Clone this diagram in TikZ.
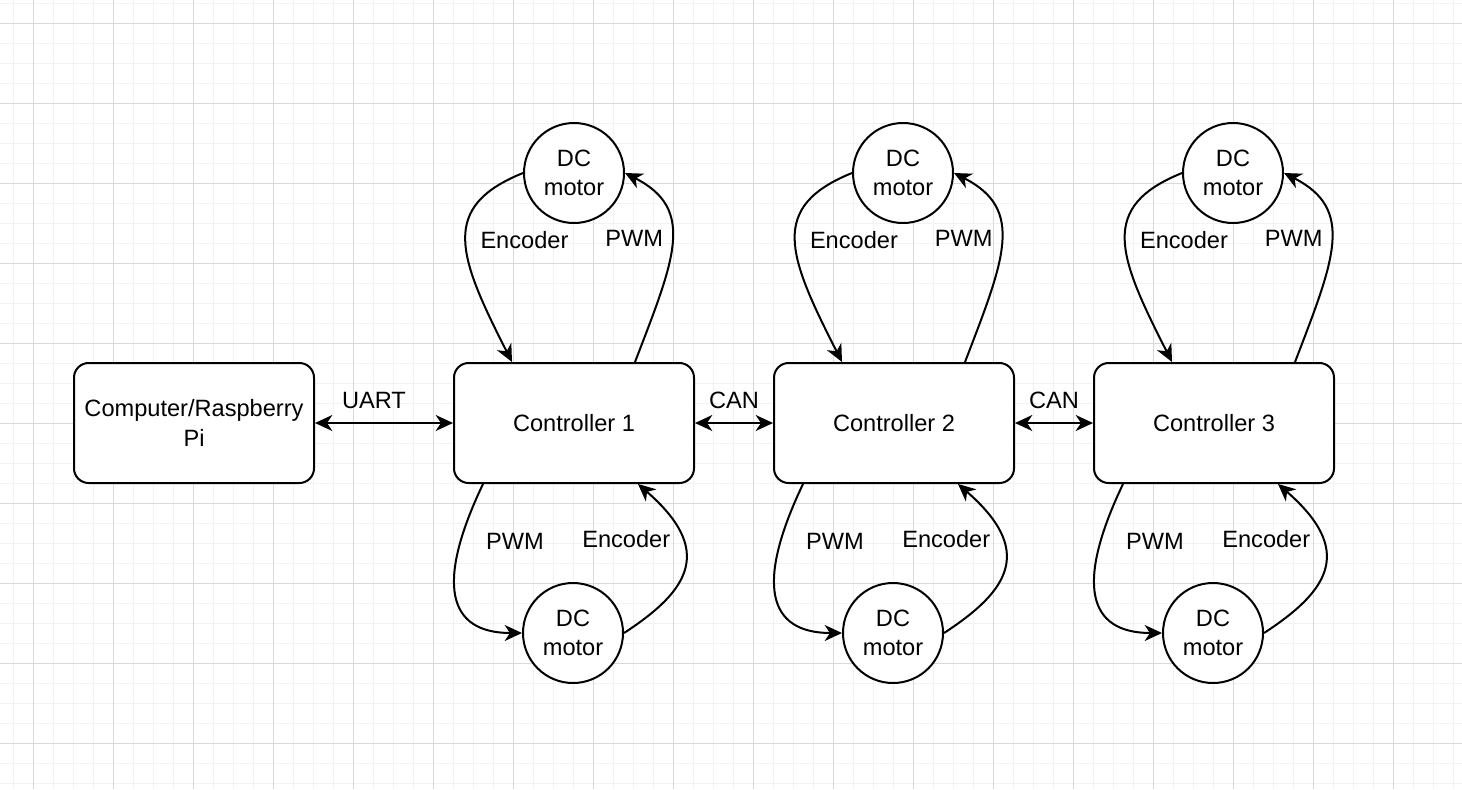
\documentclass[tikz,border=0pt]{standalone}
\usepackage{fontspec}
\setmainfont{Liberation Sans}
\usetikzlibrary{positioning}
\usetikzlibrary{calc}
\usetikzlibrary{arrows.meta}
\tikzstyle{line} = [draw, line width=1.5pt, -{Stealth[length=13pt, width=12pt, inset=4pt]}]
\tikzstyle{biline} = [draw, line width=1.5pt, {Stealth[length=13pt, width=12pt, inset=4pt]}-{Stealth[length=13pt, width=12pt, inset=4pt]}]

\begin{document}
\begin{tikzpicture}[x=0.75pt, y=0.75pt,
        internal/.style={draw, rectangle, rounded corners=11pt, line width=1.5pt, fill=white, minimum width=180pt, minimum height=90pt},
        motor/.style={draw, circle, line width=1.5pt, fill=white, inner sep=0pt, minimum size=75pt},
        gridminor/.style={draw=black!5, line width=0.75pt},
        gridmajor/.style={draw=black!15, line width=0.75pt},
        every node/.style={font=\fontsize{17.7}{22}\selectfont},
        every text node part/.style={align=center}]
        \useasboundingbox (0,0) rectangle (1462,-789);
        \fill[white] (0,0) rectangle (1462,-789);
        % background grid
        \foreach \gx in {13,33,...,1453} \draw[gridminor] (\gx,0) -- (\gx,-789);
        \foreach \gy in {3,23,...,783} \draw[gridminor] (0,-\gy) -- (1462,-\gy);
        \foreach \gx in {33,113,...,1433} \draw[gridmajor] (\gx,0) -- (\gx,-789);
        \foreach \gy in {23,103,...,743} \draw[gridmajor] (0,-\gy) -- (1462,-\gy);

        \node[internal](ctrl1) at (574, -423) {Controller 1};
        \node[internal, left=103.5pt of ctrl1](comp) {Computer/Raspberry\\Pi};
        \node[internal, right=58.5pt of ctrl1](ctrl2) {Controller 2};
        \node[internal, right=58.5pt of ctrl2](ctrl3) {Controller 3};

        \node[motor](mot1a) at (574, -173) {DC\\motor};
        \node[motor](mot2a) at (903, -173) {DC\\motor};
        \node[motor](mot3a) at (1233, -173) {DC\\motor};
        \node[motor](mot1b) at (573, -633) {DC\\motor};
        \node[motor](mot2b) at (893, -633) {DC\\motor};
        \node[motor](mot3b) at (1213, -633) {DC\\motor};

        \draw[biline] (comp) -- node[xshift=-7.5pt, yshift=17pt] (uart) {UART} (ctrl1);
        \draw[biline] (ctrl1) -- node[yshift=17pt] (can1) {CAN} (ctrl2);
        \draw[biline] (ctrl2) -- node[yshift=17pt] (can2) {CAN} (ctrl3);

        % controller 1
        \draw[line] (mot1a.west) .. controls +(202:90) and +(117:120) .. ($(ctrl1.north)+(-62,0)$) node[pos=0.5, xshift=44pt] (enc1a) {Encoder};
        \draw[line] ($(ctrl1.north)+(61,0)$) .. controls +(69:110) and +(-27:80) .. (mot1a.east) node[pos=0.5, xshift=-28pt, yshift=3pt] (pwm1a) {PWM};
        \draw[line] ($(ctrl1.south)+(-91,0)$) .. controls +(244.5:110) and +(180:75) .. (mot1b.west) node[pos=0.2, xshift=40pt, yshift=-2.5pt] (pwm1b) {PWM};
        \draw[line] (mot1b.east) .. controls +(33:80) and +(-41:100) .. ($(ctrl1.south)+(64,0)$) node[pos=0.7, xshift=-41pt, yshift=-1.5pt] (enc1b) {Encoder};

        % controller 2
        \draw[line] (mot2a.west) .. controls +(202:90) and +(117:120) .. ($(ctrl2.north)+(-52,0)$) node[pos=0.5, xshift=44pt] (enc2a) {Encoder};
        \draw[line] ($(ctrl2.north)+(71,0)$) .. controls +(69:110) and +(-27:80) .. (mot2a.east) node[pos=0.5, xshift=-28pt, yshift=3pt] (pwm2a) {PWM};
        \draw[line] ($(ctrl2.south)+(-91,0)$) .. controls +(244.5:110) and +(180:75) .. (mot2b.west) node[pos=0.2, xshift=40pt, yshift=-2.5pt] (pwm2b) {PWM};
        \draw[line] (mot2b.east) .. controls +(33:80) and +(-41:100) .. ($(ctrl2.south)+(64,0)$) node[pos=0.7, xshift=-41pt, yshift=-1.5pt] (enc2b) {Encoder};

        % controller 3
        \draw[line] (mot3a.west) .. controls +(202:90) and +(117:120) .. ($(ctrl3.north)+(-42,0)$) node[pos=0.5, xshift=44pt] (enc3a) {Encoder};
        \draw[line] ($(ctrl3.north)+(81,0)$) .. controls +(69:110) and +(-27:80) .. (mot3a.east) node[pos=0.5, xshift=-28pt, yshift=3pt] (pwm3a) {PWM};
        \draw[line] ($(ctrl3.south)+(-91,0)$) .. controls +(244.5:110) and +(180:75) .. (mot3b.west) node[pos=0.2, xshift=40pt, yshift=-2.5pt] (pwm3b) {PWM};
        \draw[line] (mot3b.east) .. controls +(33:80) and +(-41:100) .. ($(ctrl3.south)+(64,0)$) node[pos=0.7, xshift=-41pt, yshift=-1.5pt] (enc3b) {Encoder};
\end{tikzpicture}
\end{document}
